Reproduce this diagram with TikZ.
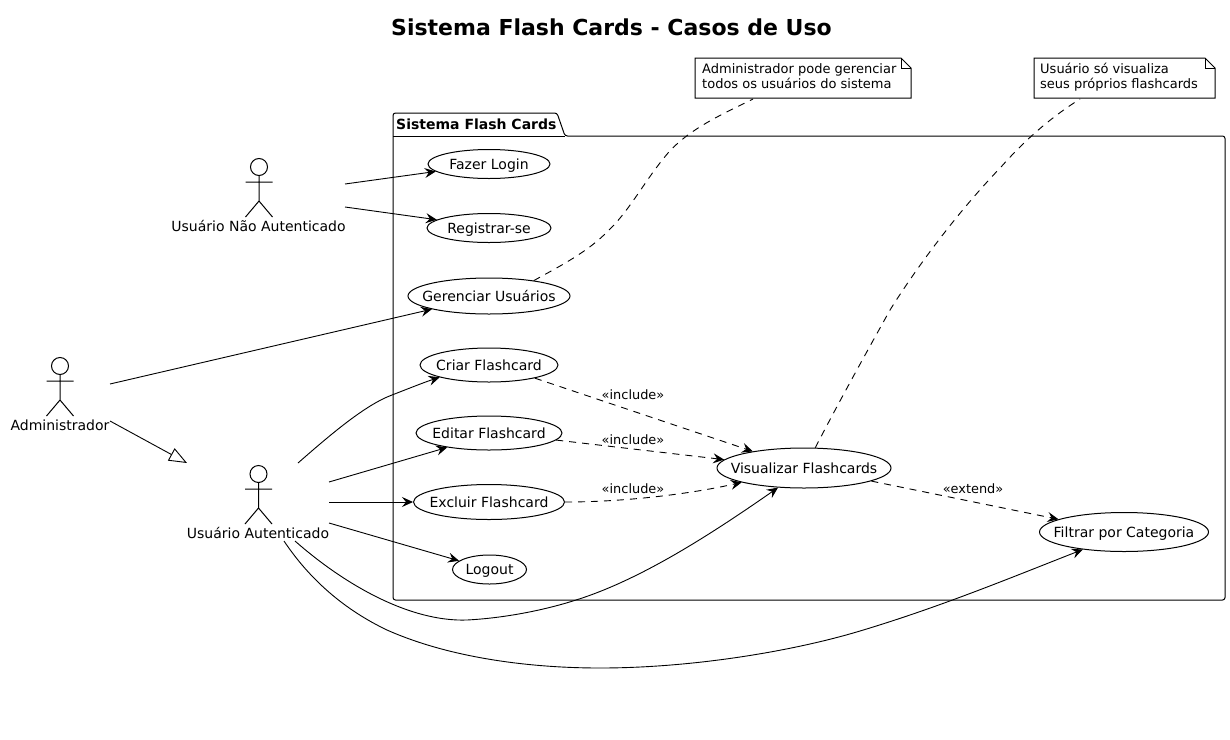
\documentclass[tikz,border=0pt]{standalone}
\usepackage{fontspec}
\setmainfont{DejaVu Sans}
\usetikzlibrary{arrows.meta,shapes.geometric}
\newcommand{\fs}[1]{\fontsize{#1pt}{15pt}\selectfont}
\newcommand{\uc}[1]{\makebox[0pt]{#1}}
\tikzset{
  usecase/.style={draw=black,ellipse,inner sep=0pt,line width=1pt,font=\fs{14},text=black,text height=11.5pt,text depth=1.5pt},
  vee/.style={-{Stealth[length=11pt,width=10pt,inset=4pt]}},
  assoc/.style={vee,line width=0.9pt},
  incl/.style={vee,line width=0.9pt,dash pattern=on 7pt off 6pt},
  noteline/.style={line width=0.9pt,dash pattern=on 7pt off 6pt},
  stereo/.style={font=\fs{12.9},inner sep=0pt},
  actorlabel/.style={font=\fs{14},inner sep=0pt},
  notetext/.style={font=\fs{13},inner sep=0pt,align=left,anchor=north west},
  actor/.pic={
    \draw[line width=1pt] (0,-15) circle (8.5pt);
    \draw[line width=1pt] (0,-6.5) -- (0,19) (-13.5,0) -- (13.5,0) (-13.5,35) -- (0,19) -- (13.5,35);
  }
}
\begin{document}
\begin{tikzpicture}[x=1pt,y=-1pt]
\useasboundingbox (0,0) rectangle (1230,739);
\fill[white] (0,0) rectangle (1230,739);

\node[font=\bfseries\fs{22},inner sep=0pt] (title) at (611.5,27) {Sistema Flash Cards - Casos de Uso};

% package
\draw[line width=1pt,rounded corners=2.5pt] (393,136) -- (393,113) -- (557,113) -- (565,136) -- (1225,136) -- (1225,600) -- (393,600) -- cycle;
\draw[line width=1pt] (393,136) -- (565,136);
\node[font=\bfseries\fs{14},anchor=west,inner sep=0pt] (pkg) at (396,124) {Sistema Flash Cards};

% actors
\pic at (60,381) {actor};
\pic at (258.5,489) {actor};
\pic at (259,182) {actor};
\node[actorlabel] (adm) at (60,425) {Administrador};
\node[actorlabel] (aut) at (258,533) {Usuário Autenticado};
\node[actorlabel] (nao) at (258.5,226) {Usuário Não Autenticado};

% use cases
\node[usecase,minimum width=122pt,minimum height=29pt] (login) at (489,164) {\uc{Fazer Login}};
\node[usecase,minimum width=124pt,minimum height=29pt] (reg) at (489,228) {\uc{Registrar-se}};
\node[usecase,minimum width=162pt,minimum height=36pt] (ger) at (489,296) {\uc{Gerenciar Usuários}};
\node[usecase,minimum width=138pt,minimum height=34pt] (criar) at (489,365) {\uc{Criar Flashcard}};
\node[usecase,minimum width=146pt,minimum height=34pt] (edit) at (489,433) {\uc{Editar Flashcard}};
\node[usecase,minimum width=151pt,minimum height=35pt] (excl) at (489,502) {\uc{Excluir Flashcard}};
\node[usecase,minimum width=74pt,minimum height=29pt] (logout) at (489.5,569.5) {\uc{Logout}};
\node[usecase,minimum width=174pt,minimum height=40pt] (vis) at (804,468) {\uc{Visualizar Flashcards}};
\node[usecase,minimum width=169pt,minimum height=39pt] (filt) at (1124,532) {\uc{Filtrar por Categoria}};

% notes
\draw[line width=1pt,fill=white] (695,58) -- (901,58) -- (911,68) -- (911,98) -- (695,98) -- cycle;
\draw[line width=1pt] (901,58) -- (901,68) -- (911,68);
\node[notetext] (n1) at (702,63) {Administrador pode gerenciar\\todos os usuários do sistema};
\draw[line width=1pt,fill=white] (1034,58) -- (1205,58) -- (1215,68) -- (1215,98) -- (1034,98) -- cycle;
\draw[line width=1pt] (1205,58) -- (1205,68) -- (1215,68);
\node[notetext] (n2) at (1040,63) {Usuário só visualiza\\seus próprios flashcards};
\coordinate (n1a) at (753,99);
\coordinate (n2a) at (1080,99);

% free ends at actors
\coordinate (nao1) at (345,184);
\coordinate (nao2) at (345,207);
\coordinate (adm1) at (110,384);
\coordinate (adm2) at (110,421);
\coordinate (autg) at (187,463);
\coordinate (aut1) at (298,463);
\coordinate (aut2) at (329,482);
\coordinate (aut3) at (329,502);
\coordinate (aut4) at (329,523);
\coordinate (aut5) at (295,541);
\coordinate (aut6) at (284,541);

% associations
\draw[assoc] (nao1) -- (login.188);
\draw[assoc] (nao2) -- (reg.171.5);
\draw[assoc] (adm1) -- (ger.193);
\draw[line width=0.9pt,-{Triangle[open,length=18pt,width=14pt,line width=0.9pt]}] (adm2) -- (autg);
\draw[assoc] (aut1) .. controls (330,435) and (365,405) .. (392,395) .. controls (410,388) and (425,382) .. (criar.194);
\draw[assoc] (aut2) -- (edit.199);
\draw[assoc] (aut3) -- (excl.west);
\draw[assoc] (aut4) -- (logout.164);
\draw[assoc] (aut5) .. controls (345,585) and (410,622) .. (467,620) .. controls (505,618) and (545,610) .. (576,600) .. controls (640,580) and (710,535) .. (vis.217.6);
\draw[assoc] (aut6) .. controls (310,580) and (345,610) .. (387,630) .. controls (450,658) and (530,668) .. (600,668) .. controls (690,668) and (790,652) .. (860,631) .. controls (940,607) and (1010,578) .. (filt.203);

% includes
\draw[incl] (criar.-16.8) -- (vis.162.6);
\draw[incl] (edit.-6.9) -- (vis.174);
\draw[incl] (excl.east) .. controls (625,502) and (690,494) .. (vis.193.8);
\draw[incl] (vis.-11.5) -- (filt.169);
\node[stereo] (s1) at (633,395) {«include»};
\node[stereo] (s2) at (633,440) {«include»};
\node[stereo] (s3) at (633,489) {«include»};
\node[stereo] (s4) at (973,489) {«extend»};

% note links
\draw[noteline] (ger.19) .. controls (560,266) and (588,252) .. (609,230) .. controls (630,210) and (645,180) .. (668,153) .. controls (690,128) and (725,113) .. (n1a);
\draw[noteline] (vis.61) .. controls (840,400) and (865,355) .. (890,310) .. controls (915,270) and (955,215) .. (1001,167) .. controls (1025,140) and (1050,118) .. (n2a);
\end{tikzpicture}
\end{document}
